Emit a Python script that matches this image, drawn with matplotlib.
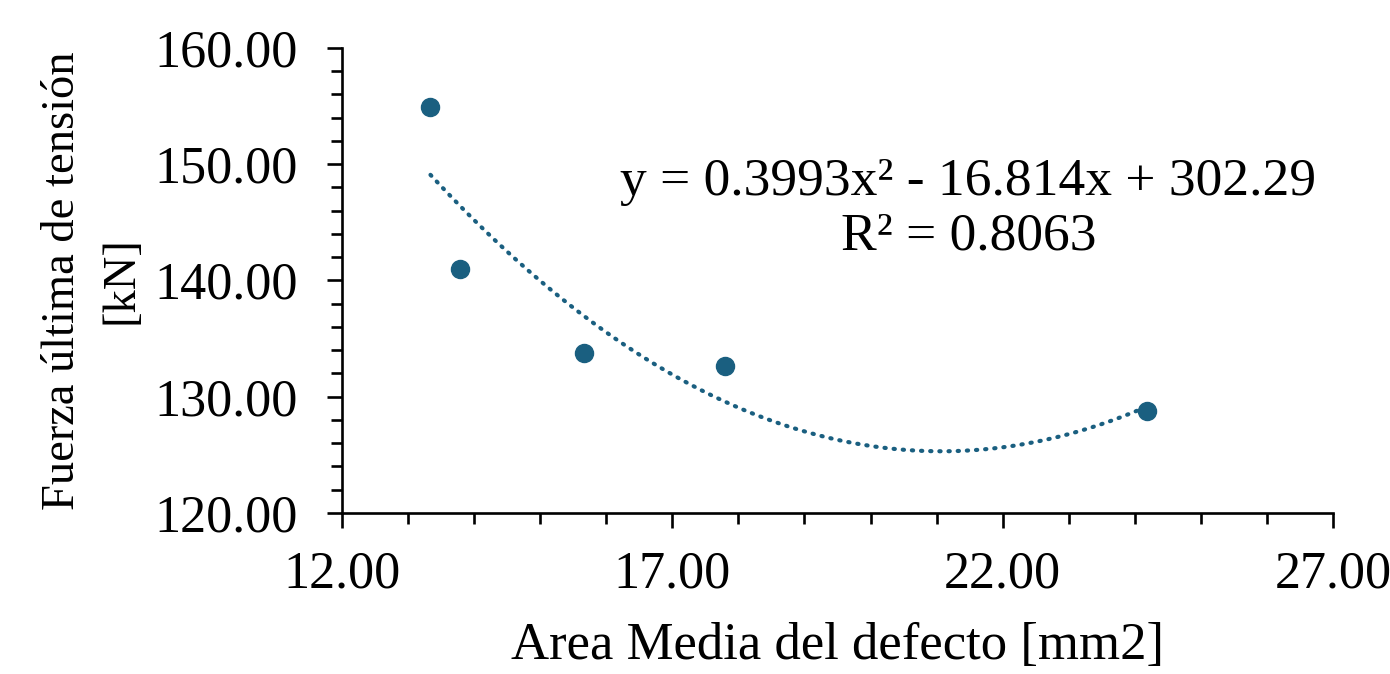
import numpy as np
import matplotlib.pyplot as plt
from matplotlib.ticker import FixedLocator, FormatStrFormatter

plt.rcParams["font.family"] = ["Liberation Serif", "DejaVu Serif"]

area = [13.34, 13.79, 15.66, 17.80, 24.18]
force = [154.95, 140.96, 133.79, 132.65, 128.77]
equation_text = "y = 0.3993x² - 16.814x + 302.29\nR² = 0.8063"

x_major = np.arange(12, 28, 5)
x_minor = np.arange(12, 28, 1)
y_major = np.arange(120, 161, 10)
y_minor = np.arange(120, 161, 2)

color = "#1a5f80"

fig = plt.figure(figsize=(13.9, 6.74), dpi=100)
ax = fig.add_axes((0.246, 0.239, 0.713, 0.690))

ax.plot(area, force, "o", color=color, markersize=13, zorder=3)

# second order trend line through the points
coef = np.polyfit(area, force, 2)
xs = np.linspace(min(area), max(area), 200)
ax.plot(xs, np.polyval(coef, xs), color=color, linewidth=3.0,
        linestyle=(0, (0.3, 1.9)), dash_capstyle="round")

ax.text(0.632, 0.653, equation_text, transform=ax.transAxes,
        ha="center", va="center", fontsize=38.5, linespacing=1.2)

ax.set_xlim(12, 27)
ax.set_ylim(120, 160)
ax.xaxis.set_major_locator(FixedLocator(x_major))
ax.xaxis.set_minor_locator(FixedLocator(x_minor))
ax.yaxis.set_major_locator(FixedLocator(y_major))
ax.yaxis.set_minor_locator(FixedLocator(y_minor))
ax.xaxis.set_major_formatter(FormatStrFormatter("%.2f"))
ax.yaxis.set_major_formatter(FormatStrFormatter("%.2f"))

for side in ("top", "right"):
    ax.spines[side].set_visible(False)
for side in ("left", "bottom"):
    ax.spines[side].set_linewidth(1.9)

ax.tick_params(axis="both", which="major", direction="out", length=11,
               width=1.9, labelsize=37.5)
ax.tick_params(axis="both", which="minor", direction="out", length=8,
               width=1.9)
ax.tick_params(axis="x", which="major", pad=16)
ax.tick_params(axis="y", which="major", pad=21)

ax.set_xlabel("Area Media del defecto [mm2]", fontsize=38, labelpad=17)
ax.set_ylabel("Fuerza última de tensión\n[kN]", fontsize=33.5,
              linespacing=1.5, labelpad=8)

fig.savefig("out.png", dpi=100)
